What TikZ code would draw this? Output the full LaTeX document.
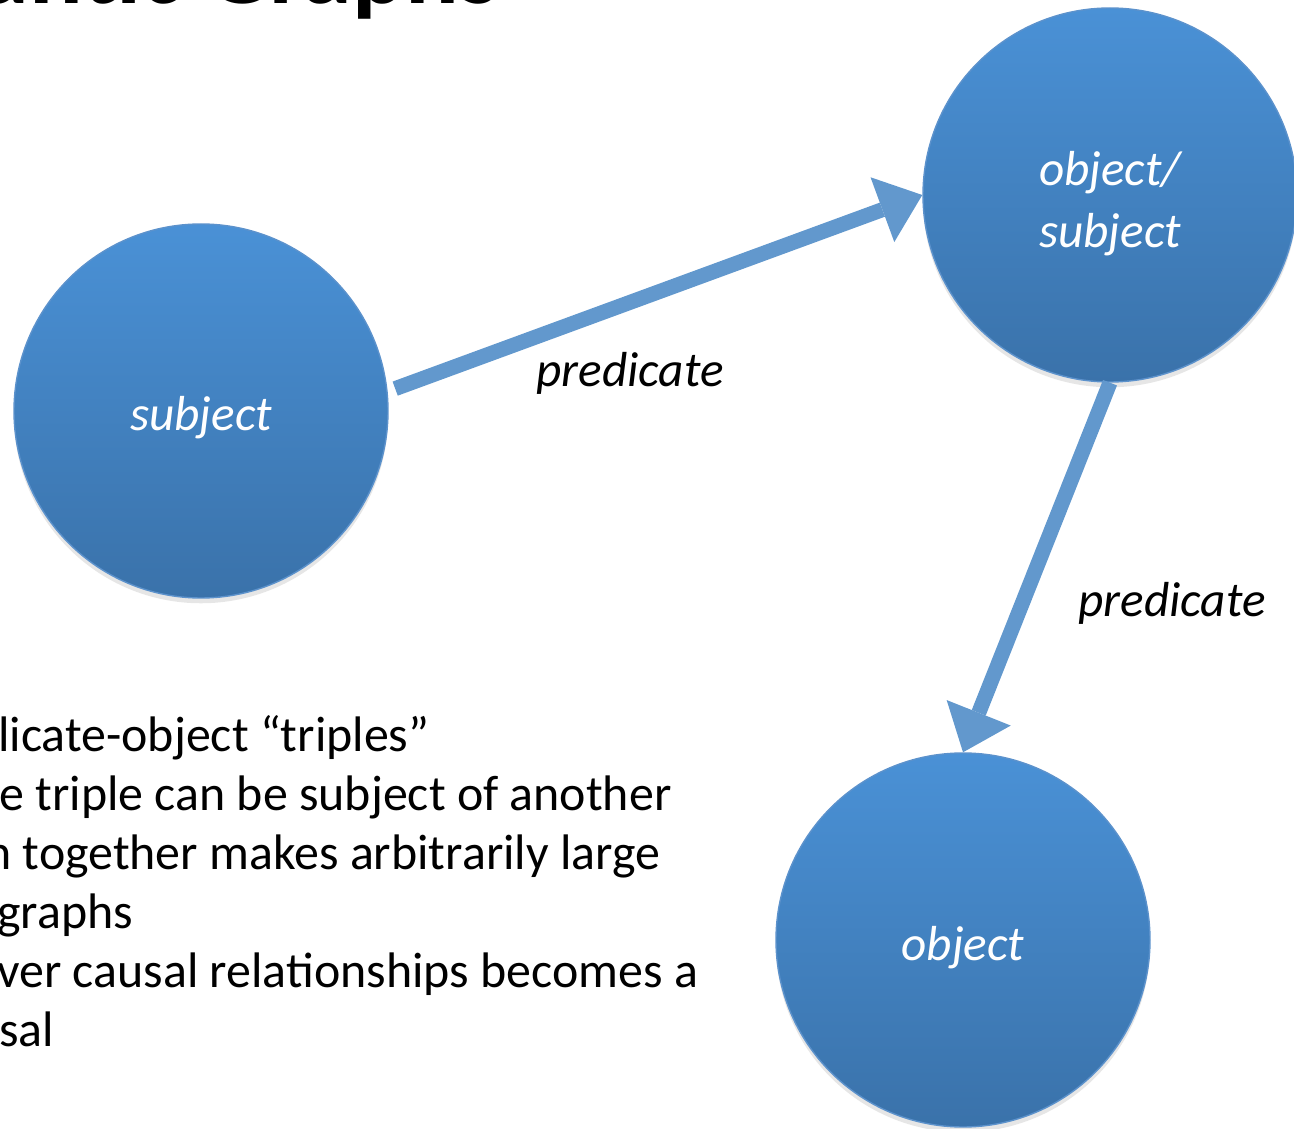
\documentclass[tikz,border=0pt]{standalone}
\usepackage{fontspec}
\setmainfont{Carlito}
\usetikzlibrary{arrows.meta,shadows}

\definecolor{ballTop}{RGB}{74,145,214}
\definecolor{ballBottom}{RGB}{58,114,170}
\definecolor{ballRim}{RGB}{92,146,204}
\definecolor{predBlue}{RGB}{98,152,205}

\tikzset{
	resource/.style={shape=circle, minimum size=7.48cm, inner sep=0pt,
		top color=ballTop, bottom color=ballBottom, draw=ballRim, line width=0.8pt,
		text=white, align=center, font=\fontsize{28}{35.5}\selectfont\itshape,
		text height=0.8cm, text depth=0cm,
		drop shadow={shadow xshift=0pt, shadow yshift=-3pt, opacity=0.2}},
	pred/.style={color=predBlue, line width=0.3cm,
		-{Triangle[length=0.85cm, width=1.38cm, line width=0pt]}},
	predlabel/.style={inner sep=0pt, font=\fontsize{28}{33}\selectfont\itshape},
	bullettext/.style={anchor=base west, inner sep=0pt, font=\fontsize{28.4}{33}\selectfont}
}

\begin{document}
\begin{tikzpicture}
	\useasboundingbox (0,0) rectangle (25.88,-22.58);

	% title, cut off by the top edge
	\node[anchor=base east, inner sep=0pt, font=\fontsize{57}{62}\selectfont\bfseries] (title) at (10,-0.07) {Semantic Graphs};

	% text lines, cut off by the left edge
	\node[bullettext] (l1) at (-0.04,-15.02) {licate-object “triples”};
	\node[bullettext] (l2) at (-0.02,-16.20) {e triple can be subject of another};
	\node[bullettext] (l3) at (-0.30,-17.38) {n together makes arbitrarily large};
	\node[bullettext] (l4) at (-0.06,-18.56) {graphs};
	\node[bullettext] (l5) at (-0.06,-19.74) {ver causal relationships becomes a};
	\node[bullettext] (l6) at (-0.02,-20.92) {sal};

	% the graph
	\node[resource] (subj) at (4.02,-8.22) {subject};
	\node[resource, text height=2.12cm, text depth=0cm] (objsubj) at (22.2,-3.9) {object/\\subject};
	\node[resource] (obj) at (19.26,-18.8) {object};

	\draw[pred, shorten <=0.16cm] (subj.6) -- (objsubj.west);
	\draw[pred] (objsubj.south) -- (obj.north);

	\node[predlabel] (p1) at (12.6,-7.46) {predicate};
	\node[predlabel] (p2) at (23.44,-12.06) {predicate};
\end{tikzpicture}
\end{document}
